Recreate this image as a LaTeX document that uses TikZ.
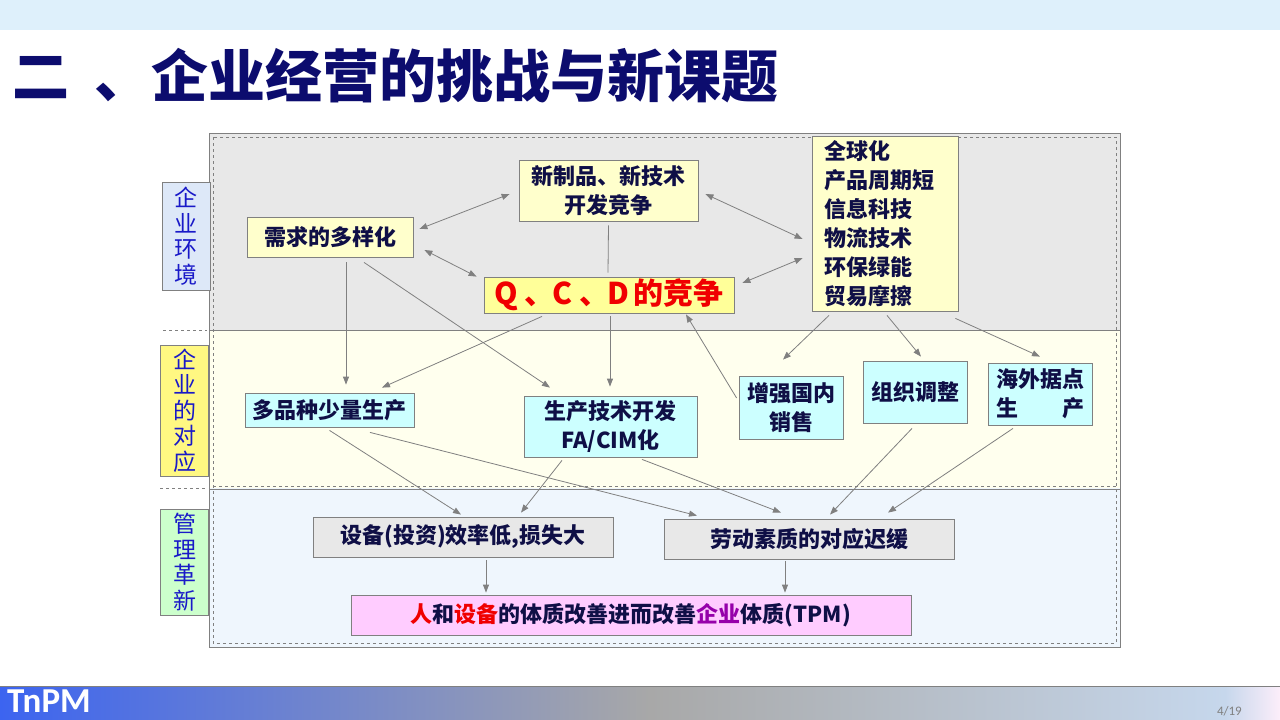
\documentclass[tikz,border=0pt]{standalone}
\usepackage{fontspec}
\setmainfont{Noto Sans CJK SC}
\newfontfamily\barfont{Carlito}
\usepackage{tikz}
\usetikzlibrary{arrows.meta, positioning, calc}
\definecolor{mynavy}{RGB}{12,12,110}
\definecolor{myblue}{RGB}{25,25,200}
\definecolor{mytext}{RGB}{15,15,70}
\definecolor{mygray}{RGB}{128,128,128}
\definecolor{myred}{RGB}{240,0,0}
\definecolor{mypurple}{RGB}{150,0,170}
\definecolor{hdrsky}{RGB}{222,240,251}
\definecolor{hdrgray}{RGB}{232,232,232}
\definecolor{hdrcream}{RGB}{255,255,238}
\definecolor{hdrice}{RGB}{239,246,253}
\definecolor{hdryellow}{RGB}{255,255,204}
\definecolor{hdrgold}{RGB}{255,255,153}
\definecolor{hdrcyan}{RGB}{204,255,255}
\definecolor{hdrpink}{RGB}{255,204,255}
\definecolor{hdrlblue}{RGB}{221,232,248}
\definecolor{hdrlyel}{RGB}{255,248,130}
\definecolor{hdrlgreen}{RGB}{204,255,204}
\definecolor{barblue}{RGB}{60,100,240}
\definecolor{bargray}{RGB}{168,168,168}
\definecolor{barpale}{RGB}{198,215,236}
\definecolor{barpink}{RGB}{252,238,250}
\tikzset{
  box/.style={rectangle, draw=mygray, line width=0.8pt, inner sep=0pt,
    align=center, font=\fontsize{22}{29}\selectfont\bfseries, text=mytext},
  envbox/.style={box, fill=hdryellow},
  actbox/.style={box, fill=hdrcyan},
  mgtbox/.style={box, fill=hdrgray},
  sidebox/.style={rectangle, draw=mygray, line width=0.8pt, inner sep=0pt,
    minimum width=48pt, align=center, font=\fontsize{23}{25.5}\selectfont, text=myblue},
  arrow/.style={-{Triangle[length=8pt, width=6pt]}, color=mygray, line width=0.8pt},
  twoway/.style={{Triangle[length=8pt, width=6pt]}-{Triangle[length=8pt, width=6pt]},
    color=mygray, line width=0.8pt},
  line/.style={color=mygray, line width=0.8pt}
}

\begin{document}
\begin{tikzpicture}[x=1pt, y=-1pt]
  \useasboundingbox (0,0) rectangle (1280,720);

  % Header and footer
  \fill[hdrsky] (0,0) rectangle (1280,30);
  \node[anchor=west, inner sep=0pt, text=mynavy, font=\fontsize{57}{60}\selectfont\bfseries]
    (title) at (12,76) {二\hspace{0.45em}、企业经营的挑战与新课题};
  \shade[left color=barblue, right color=bargray] (0,686) rectangle (650,720);
  \shade[left color=bargray, right color=barpale] (650,686) rectangle (1225,720);
  \shade[left color=barpale, right color=barpink] (1225,686) rectangle (1280,720);
  \draw[color=mygray, line width=1pt] (0,686) -- (1280,686);
  \node[anchor=west, inner sep=0pt, text=white, font=\barfont\fontsize{35}{38}\selectfont\bfseries]
    (brand) at (7,701) {TnPM};
  \node[anchor=east, inner sep=0pt, text=mygray, font=\barfont\fontsize{13}{15}\selectfont]
    (page) at (1242,711) {4/19};

  % Bands
  \fill[hdrgray] (209,133) rectangle (1120,330);
  \fill[hdrcream] (209,330) rectangle (1120,488);
  \fill[hdrice] (209,488) rectangle (1120,647);
  \draw[line] (209,133) rectangle (1120,647);
  \draw[line, dashed] (213,137) rectangle (1116,643);
  \draw[line] (209,330) -- (1120,330);
  \draw[line, dashed] (213,486) -- (1116,486);
  \draw[line] (209,489) -- (1120,489);
  \draw[line, dashed] (163,330) -- (207,330);
  \draw[line, dashed] (160,488) -- (207,488);

  % Side labels
  \node[sidebox, fill=hdrlblue, minimum height=108pt] (sideenv) at (186,236) {企\\业\\环\\境};
  \node[sidebox, fill=hdrlyel, minimum height=131pt] (sideact) at (184.5,410.5) {企\\业\\的\\对\\应};
  \node[sidebox, fill=hdrlgreen, minimum height=106pt] (sidemgt) at (184.5,562) {管\\理\\革\\新};

  % Environment
  \node[envbox, minimum width=179pt, minimum height=61pt] (newtech) at (608.5,190.5)
    {新制品、新技术\\开发竞争};
  \node[envbox, minimum width=166pt, minimum height=40pt] (demand) at (330,237) {需求的多样化};
  \node[box, fill=hdrgold, minimum width=250pt, minimum height=36pt, text=myred,
    font=\fontsize{30}{32}\selectfont\bfseries] (qcd) at (609,295)
    {Q\hspace{7pt}、\hspace{-2pt}C\hspace{7pt}、\hspace{-2pt}D\hspace{4pt}的竞争};
  \node[envbox, minimum width=146pt, minimum height=175pt, align=left,
    text width=122pt] (trend) at (885,223.5)
    {全球化\\产品周期短\\信息科技\\物流技术\\环保绿能\\贸易摩擦};

  % Response
  \node[actbox, minimum width=169pt, minimum height=34pt] (multi) at (329.5,410) {多品种少量生产};
  \node[actbox, minimum width=173pt, minimum height=61pt] (prodtech) at (610.5,426.5)
    {生产技术开发\\FA/CIM化};
  \node[actbox, minimum width=104pt, minimum height=63pt] (domestic) at (791,407.5) {增强国内\\销售};
  \node[actbox, minimum width=104pt, minimum height=62pt] (org) at (915,392) {组织调整};
  \node[actbox, minimum width=104pt, minimum height=62pt] (overseas) at (1040,394)
    {海外据点\\生\hspace{2em}产};

  % Management
  \node[mgtbox, minimum width=300pt, minimum height=40pt] (equip) at (463,537) {设备(投资)效率低,损失大};
  \node[mgtbox, minimum width=290pt, minimum height=40pt] (labor) at (809,539) {劳动素质的对应迟缓};
  \node[box, fill=hdrpink, minimum width=560pt, minimum height=40pt] (tpm) at (631,615)
    {\textcolor{myred}{人}和\textcolor{myred}{设备}的体质改善进而改善\textcolor{mypurple}{企业}体质(TPM)};

  % Connectors, environment band
  \draw[twoway] ($(demand.east)+(6,-8)$) -- ($(newtech.west)+(-9,3.5)$);
  \draw[twoway] ($(demand.east)+(11,13)$) -- ($(qcd.north west)+(-7,0)$);
  \draw[line] ($(newtech.south)+(0,4)$) -- ($(qcd.north)+(-1,-4)$);
  \draw[twoway] ($(newtech.east)+(7,3.5)$) -- ($(trend.west)+(-9,15.5)$);
  \draw[twoway] ($(qcd.east)+(8,-12)$) -- ($(trend.west)+(-9,34.5)$);

  % Connectors into response band
  \draw[arrow] ($(demand.south)+(16,5)$) -- ($(multi.north)+(16.5,-8)$);
  \draw[arrow] ($(demand.south)+(34,5)$) -- ($(prodtech.north)+(-60.5,-8)$);
  \draw[arrow] ($(qcd.south)+(-67,3)$) -- ($(multi.north)+(52.5,-5)$);
  \draw[arrow] ($(qcd.south)+(1,3)$) -- ($(prodtech.north)+(-0.5,-9)$);
  \draw[arrow] ($(domestic.west)+(-2,-9.5)$) -- ($(qcd.south)+(77,1)$);
  \draw[arrow] ($(trend.south)+(-56,4)$) -- ($(domestic.north)+(-8,-16)$);
  \draw[arrow] ($(trend.south)+(2,4)$) -- ($(org.north)+(6,-4)$);
  \draw[arrow] ($(trend.south east)+(-3,7)$) -- ($(overseas.north)+(0,-6)$);

  % Connectors into management band
  \draw[arrow] ($(multi.south)+(0,3)$) -- ($(equip.north)+(-2,-2)$);
  \draw[arrow] ($(multi.south)+(40.5,5)$) -- ($(labor.north)+(-112,-3)$);
  \draw[arrow] ($(prodtech.south)+(-48.5,3)$) -- ($(equip.north)+(58,-4)$);
  \draw[arrow] ($(prodtech.south)+(31.5,2)$) -- ($(labor.north)+(-28,-6)$);
  \draw[arrow] ($(org.south)+(-3,5)$) -- ($(labor.north)+(21,-4)$);
  \draw[arrow] ($(overseas.south)+(-27,3)$) -- ($(labor.north)+(79,-6)$);
  \draw[arrow] ($(equip.south)+(23,3)$) -- ($(tpm.north)+(-145,-2)$);
  \draw[arrow] ($(labor.south)+(-24,2)$) -- ($(tpm.north)+(154,-2)$);
\end{tikzpicture}
\end{document}
